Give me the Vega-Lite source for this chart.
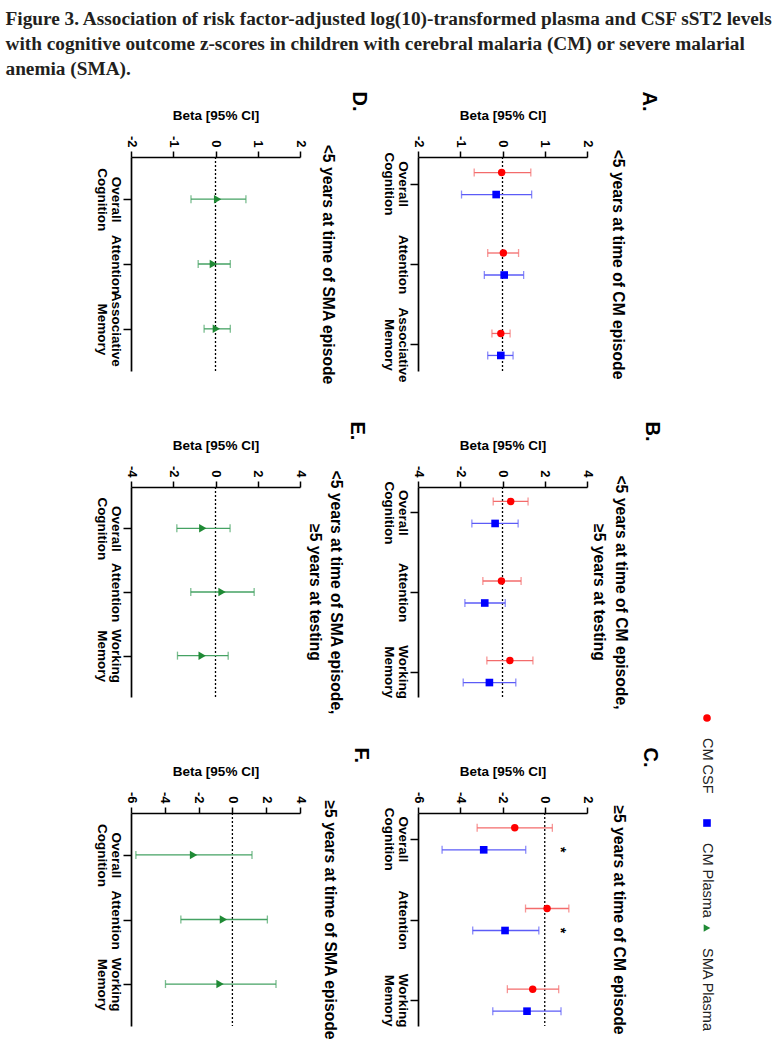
{
"$schema": "https://vega.github.io/schema/vega-lite/v6.json",
"padding": {"left": 5, "top": 10, "right": 2, "bottom": 2},
"background": "white",
"title": {"text": ["Figure 3. Association of risk factor-adjusted log(10)-transformed plasma and CSF sST2 levels", "with cognitive outcome z-scores in children with cerebral malaria (CM) or severe malarial", "anemia (SMA)."], "anchor": "start", "font": "Liberation Serif", "fontSize": 19.3, "fontWeight": "bold", "lineHeight": 25, "color": "#231f20", "dx": -89, "offset": 12},
"datasets": {
"A": [
{"outcome": "Overall Cognition", "type": "CSF", "beta": -0.02, "lo": -0.67, "hi": 0.67},
{"outcome": "Overall Cognition", "type": "Plasma", "beta": -0.15, "lo": -0.97, "hi": 0.69},
{"outcome": "Attention", "type": "CSF", "beta": 0.02, "lo": -0.35, "hi": 0.38},
{"outcome": "Attention", "type": "Plasma", "beta": 0.04, "lo": -0.43, "hi": 0.5},
{"outcome": "Associative Memory", "type": "CSF", "beta": -0.04, "lo": -0.25, "hi": 0.18},
{"outcome": "Associative Memory", "type": "Plasma", "beta": -0.04, "lo": -0.35, "hi": 0.25}
],
"B": [
{"outcome": "Overall Cognition", "type": "CSF", "beta": 0.39, "lo": -0.44, "hi": 1.21},
{"outcome": "Overall Cognition", "type": "Plasma", "beta": -0.35, "lo": -1.45, "hi": 0.74},
{"outcome": "Attention", "type": "CSF", "beta": -0.05, "lo": -0.93, "hi": 0.88},
{"outcome": "Attention", "type": "Plasma", "beta": -0.84, "lo": -1.78, "hi": 0.13},
{"outcome": "Working Memory", "type": "CSF", "beta": 0.35, "lo": -0.74, "hi": 1.44},
{"outcome": "Working Memory", "type": "Plasma", "beta": -0.62, "lo": -1.86, "hi": 0.63}
],
"C": [
{"outcome": "Overall Cognition", "type": "CSF", "beta": -1.42, "lo": -3.2, "hi": 0.36, "sig": ""},
{"outcome": "Overall Cognition", "type": "Plasma", "beta": -2.89, "lo": -4.86, "hi": -0.9, "sig": "*"},
{"outcome": "Attention", "type": "CSF", "beta": 0.11, "lo": -0.91, "hi": 1.14, "sig": ""},
{"outcome": "Attention", "type": "Plasma", "beta": -1.88, "lo": -3.41, "hi": -0.28, "sig": "*"},
{"outcome": "Working Memory", "type": "CSF", "beta": -0.57, "lo": -1.77, "hi": 0.66, "sig": ""},
{"outcome": "Working Memory", "type": "Plasma", "beta": -0.84, "lo": -2.46, "hi": 0.77, "sig": ""}
],
"D": [
{"outcome": "Overall Cognition", "type": "SMA", "beta": 0.05, "lo": -0.58, "hi": 0.72},
{"outcome": "Attention", "type": "SMA", "beta": -0.05, "lo": -0.41, "hi": 0.35},
{"outcome": "Associative Memory", "type": "SMA", "beta": 0.02, "lo": -0.27, "hi": 0.35}
],
"E": [
{"outcome": "Overall Cognition", "type": "SMA", "beta": -0.6, "lo": -1.83, "hi": 0.69},
{"outcome": "Attention", "type": "SMA", "beta": 0.31, "lo": -1.17, "hi": 1.83},
{"outcome": "Working Memory", "type": "SMA", "beta": -0.63, "lo": -1.8, "hi": 0.6}
],
"F": [
{"outcome": "Overall Cognition", "type": "SMA", "beta": -2.3, "lo": -5.71, "hi": 1.16},
{"outcome": "Attention", "type": "SMA", "beta": -0.53, "lo": -3.05, "hi": 2.07},
{"outcome": "Working Memory", "type": "SMA", "beta": -0.73, "lo": -3.96, "hi": 2.58}
],
"legend": [{"label": "CM CSF"}, {"label": "CM Plasma"}, {"label": "SMA Plasma"}]
},
"config": {
"view": {"stroke": null},
"font": "Liberation Sans",
"axis": {"grid": false, "labelOverlap": false, "domainColor": "#000", "domainWidth": 1.7, "tickColor": "#000", "tickWidth": 1.5, "labelColor": "#000", "labelFont": "Liberation Sans", "labelFontWeight": "bold", "labelFontSize": 13, "titleFont": "Liberation Sans", "titleFontWeight": "bold", "titleFontSize": 13.5, "titleColor": "#000"}
},
"spacing": 10,
"align": "each",
"hconcat": [
{"vconcat": [
{
"width": 169, "height": 214,
"data": {"name": "D"},
"title": {"text": "D.", "orient": "right", "anchor": "start", "font": "Liberation Sans", "fontSize": 20, "fontWeight": "bold", "color": "#000", "offset": 14, "dx": -17},
"resolve": {"axis": {"y": "independent"}},
"layer": [
{"data": {"values": [{}]}, "mark": {"type": "rule", "strokeDash": [2, 2], "color": "#000", "strokeWidth": 1.3}, "encoding": {"x": {"datum": 0, "type": "quantitative", "title": "Beta [95% CI]", "scale": {"domain": [-2, 2], "nice": false, "zero": false}, "axis": {"orient": "top", "values": [-2, -1, 0, 1, 2], "tickCount": 12, "labelAngle": 90, "labelAlign": "right", "labelBaseline": "middle", "labelExpr": "'' + datum.value", "tickSize": 6, "labelPadding": 4, "title": "Beta [95% CI]", "titlePadding": 13, "labelFlush": false, "labelOverlap": false}}}},
{"mark": {"type": "rule", "color": "#45a263", "strokeWidth": 1.3}, "encoding": {"x": {"field": "lo", "type": "quantitative", "title": "Beta [95% CI]"}, "x2": {"field": "hi"}, "y": {"field": "outcome", "type": "nominal", "scale": {"type": "point", "domain": ["Overall Cognition", "Attention", "Associative Memory"], "padding": 0.65}, "axis": {"orient": "left", "labelAngle": 90, "labelAlign": "center", "labelBaseline": "top", "labelExpr": "split(datum.label, ' ')", "tickSize": 8, "labelPadding": 1, "labelLineHeight": 14, "labelLimit": 0, "labelFontSize": 13.5, "title": null}}}},
{"mark": {"type": "tick", "color": "#45a263", "thickness": 1.3, "size": 8}, "encoding": {"x": {"field": "lo", "type": "quantitative", "title": "Beta [95% CI]"}, "y": {"field": "outcome", "type": "nominal", "scale": {"type": "point", "domain": ["Overall Cognition", "Attention", "Associative Memory"], "padding": 0.65}, "axis": null}}},
{"mark": {"type": "tick", "color": "#45a263", "thickness": 1.3, "size": 8}, "encoding": {"x": {"field": "hi", "type": "quantitative", "title": "Beta [95% CI]"}, "y": {"field": "outcome", "type": "nominal", "scale": {"type": "point", "domain": ["Overall Cognition", "Attention", "Associative Memory"], "padding": 0.65}, "axis": null}}},
{"mark": {"type": "point", "shape": "triangle-right", "filled": true, "color": "#1f8a35", "size": 72, "opacity": 1}, "encoding": {"x": {"field": "beta", "type": "quantitative", "title": "Beta [95% CI]"}, "y": {"field": "outcome", "type": "nominal", "scale": {"type": "point", "domain": ["Overall Cognition", "Attention", "Associative Memory"], "padding": 0.65}, "axis": {"orient": "right", "labels": false, "ticks": false, "domain": false, "title": "<5 years at time of SMA episode", "titleAngle": 90, "titleBaseline": "middle", "titleAlign": "center", "titlePadding": 27, "titleFontSize": 15.7, "titleLineHeight": 20}}}}
]
},
{
"width": 169, "height": 210,
"data": {"name": "E"},
"title": {"text": "E.", "orient": "right", "anchor": "start", "font": "Liberation Sans", "fontSize": 20, "fontWeight": "bold", "color": "#000", "offset": 4, "dx": -17},
"resolve": {"axis": {"y": "independent"}},
"layer": [
{"data": {"values": [{}]}, "mark": {"type": "rule", "strokeDash": [2, 2], "color": "#000", "strokeWidth": 1.3}, "encoding": {"x": {"datum": 0, "type": "quantitative", "title": "Beta [95% CI]", "scale": {"domain": [-4, 4], "nice": false, "zero": false}, "axis": {"orient": "top", "values": [-4, -2, 0, 2, 4], "tickCount": 12, "labelAngle": 90, "labelAlign": "right", "labelBaseline": "middle", "labelExpr": "'' + datum.value", "tickSize": 6, "labelPadding": 4, "title": "Beta [95% CI]", "titlePadding": 13, "labelFlush": false, "labelOverlap": false}}}},
{"mark": {"type": "rule", "color": "#45a263", "strokeWidth": 1.3}, "encoding": {"x": {"field": "lo", "type": "quantitative", "title": "Beta [95% CI]"}, "x2": {"field": "hi"}, "y": {"field": "outcome", "type": "nominal", "scale": {"type": "point", "domain": ["Overall Cognition", "Attention", "Working Memory"], "padding": 0.65}, "axis": {"orient": "left", "labelAngle": 90, "labelAlign": "center", "labelBaseline": "top", "labelExpr": "split(datum.label, ' ')", "tickSize": 8, "labelPadding": 1, "labelLineHeight": 14, "labelLimit": 0, "labelFontSize": 13.5, "title": null}}}},
{"mark": {"type": "tick", "color": "#45a263", "thickness": 1.3, "size": 8}, "encoding": {"x": {"field": "lo", "type": "quantitative", "title": "Beta [95% CI]"}, "y": {"field": "outcome", "type": "nominal", "scale": {"type": "point", "domain": ["Overall Cognition", "Attention", "Working Memory"], "padding": 0.65}, "axis": null}}},
{"mark": {"type": "tick", "color": "#45a263", "thickness": 1.3, "size": 8}, "encoding": {"x": {"field": "hi", "type": "quantitative", "title": "Beta [95% CI]"}, "y": {"field": "outcome", "type": "nominal", "scale": {"type": "point", "domain": ["Overall Cognition", "Attention", "Working Memory"], "padding": 0.65}, "axis": null}}},
{"mark": {"type": "point", "shape": "triangle-right", "filled": true, "color": "#1f8a35", "size": 72, "opacity": 1}, "encoding": {"x": {"field": "beta", "type": "quantitative", "title": "Beta [95% CI]"}, "y": {"field": "outcome", "type": "nominal", "scale": {"type": "point", "domain": ["Overall Cognition", "Attention", "Working Memory"], "padding": 0.65}, "axis": {"orient": "right", "labels": false, "ticks": false, "domain": false, "title": ["<5 years at time of SMA episode,", "≥5 years at testing"], "titleAngle": 90, "titleBaseline": "middle", "titleAlign": "center", "titlePadding": 14, "titleFontSize": 15.7, "titleLineHeight": 21}}}}
]
},
{
"width": 169, "height": 213,
"data": {"name": "F"},
"title": {"text": "F.", "orient": "right", "anchor": "start", "font": "Liberation Sans", "fontSize": 20, "fontWeight": "bold", "color": "#000", "offset": 14, "dx": -17},
"resolve": {"axis": {"y": "independent"}},
"layer": [
{"data": {"values": [{}]}, "mark": {"type": "rule", "strokeDash": [2, 2], "color": "#000", "strokeWidth": 1.3}, "encoding": {"x": {"datum": 0, "type": "quantitative", "title": "Beta [95% CI]", "scale": {"domain": [-6, 4], "nice": false, "zero": false}, "axis": {"orient": "top", "values": [-6, -4, -2, 0, 2, 4], "tickCount": 12, "labelAngle": 90, "labelAlign": "right", "labelBaseline": "middle", "labelExpr": "'' + datum.value", "tickSize": 6, "labelPadding": 4, "title": "Beta [95% CI]", "titlePadding": 13, "labelFlush": false, "labelOverlap": false}}}},
{"mark": {"type": "rule", "color": "#45a263", "strokeWidth": 1.3}, "encoding": {"x": {"field": "lo", "type": "quantitative", "title": "Beta [95% CI]"}, "x2": {"field": "hi"}, "y": {"field": "outcome", "type": "nominal", "scale": {"type": "point", "domain": ["Overall Cognition", "Attention", "Working Memory"], "padding": 0.65}, "axis": {"orient": "left", "labelAngle": 90, "labelAlign": "center", "labelBaseline": "top", "labelExpr": "split(datum.label, ' ')", "tickSize": 8, "labelPadding": 1, "labelLineHeight": 14, "labelLimit": 0, "labelFontSize": 13.5, "title": null}}}},
{"mark": {"type": "tick", "color": "#45a263", "thickness": 1.3, "size": 8}, "encoding": {"x": {"field": "lo", "type": "quantitative", "title": "Beta [95% CI]"}, "y": {"field": "outcome", "type": "nominal", "scale": {"type": "point", "domain": ["Overall Cognition", "Attention", "Working Memory"], "padding": 0.65}, "axis": null}}},
{"mark": {"type": "tick", "color": "#45a263", "thickness": 1.3, "size": 8}, "encoding": {"x": {"field": "hi", "type": "quantitative", "title": "Beta [95% CI]"}, "y": {"field": "outcome", "type": "nominal", "scale": {"type": "point", "domain": ["Overall Cognition", "Attention", "Working Memory"], "padding": 0.65}, "axis": null}}},
{"mark": {"type": "point", "shape": "triangle-right", "filled": true, "color": "#1f8a35", "size": 72, "opacity": 1}, "encoding": {"x": {"field": "beta", "type": "quantitative", "title": "Beta [95% CI]"}, "y": {"field": "outcome", "type": "nominal", "scale": {"type": "point", "domain": ["Overall Cognition", "Attention", "Working Memory"], "padding": 0.65}, "axis": {"orient": "right", "labels": false, "ticks": false, "domain": false, "title": "≥5 years at time of SMA episode", "titleAngle": 90, "titleBaseline": "middle", "titleAlign": "center", "titlePadding": 29, "titleFontSize": 15.7, "titleLineHeight": 20}}}}
]
}
], "spacing": 116, "bounds": "flush"},
{"vconcat": [
{
"width": 169, "height": 214,
"data": {"name": "A"},
"title": {"text": "A.", "orient": "right", "anchor": "start", "font": "Liberation Sans", "fontSize": 20, "fontWeight": "bold", "color": "#000", "offset": 14, "dx": -17},
"resolve": {"axis": {"y": "independent"}},
"layer": [
{"data": {"values": [{}]}, "mark": {"type": "rule", "strokeDash": [2, 2], "color": "#000", "strokeWidth": 1.3}, "encoding": {"x": {"datum": 0, "type": "quantitative", "title": "Beta [95% CI]", "scale": {"domain": [-2, 2], "nice": false, "zero": false}, "axis": {"orient": "top", "values": [-2, -1, 0, 1, 2], "tickCount": 12, "labelAngle": 90, "labelAlign": "right", "labelBaseline": "middle", "labelExpr": "'' + datum.value", "tickSize": 6, "labelPadding": 4, "title": "Beta [95% CI]", "titlePadding": 13, "labelFlush": false, "labelOverlap": false}}}},
{"transform": [{"filter": "datum.type == 'CSF'"}], "mark": {"type": "rule", "color": "#f36b6b", "strokeWidth": 1.3, "yOffset": -11}, "encoding": {"x": {"field": "lo", "type": "quantitative", "title": "Beta [95% CI]"}, "x2": {"field": "hi"}, "y": {"field": "outcome", "type": "nominal", "scale": {"type": "point", "domain": ["Overall Cognition", "Attention", "Associative Memory"], "padding": 0.33}, "axis": {"orient": "left", "labelAngle": 90, "labelAlign": "center", "labelBaseline": "top", "labelExpr": "split(datum.label, ' ')", "tickSize": 8, "labelPadding": 1, "labelLineHeight": 14, "labelLimit": 0, "labelFontSize": 13.5, "title": null}}}},
{"transform": [{"filter": "datum.type == 'CSF'"}], "mark": {"type": "tick", "color": "#f36b6b", "thickness": 1.3, "size": 8, "yOffset": -11}, "encoding": {"x": {"field": "lo", "type": "quantitative", "title": "Beta [95% CI]"}, "y": {"field": "outcome", "type": "nominal", "scale": {"type": "point", "domain": ["Overall Cognition", "Attention", "Associative Memory"], "padding": 0.33}, "axis": null}}},
{"transform": [{"filter": "datum.type == 'CSF'"}], "mark": {"type": "tick", "color": "#f36b6b", "thickness": 1.3, "size": 8, "yOffset": -11}, "encoding": {"x": {"field": "hi", "type": "quantitative", "title": "Beta [95% CI]"}, "y": {"field": "outcome", "type": "nominal", "scale": {"type": "point", "domain": ["Overall Cognition", "Attention", "Associative Memory"], "padding": 0.33}, "axis": null}}},
{"transform": [{"filter": "datum.type == 'CSF'"}], "mark": {"type": "point", "shape": "circle", "filled": true, "color": "#ff0000", "size": 55, "opacity": 1, "yOffset": -11}, "encoding": {"x": {"field": "beta", "type": "quantitative", "title": "Beta [95% CI]"}, "y": {"field": "outcome", "type": "nominal", "scale": {"type": "point", "domain": ["Overall Cognition", "Attention", "Associative Memory"], "padding": 0.33}, "axis": null}}},
{"transform": [{"filter": "datum.type == 'Plasma'"}], "mark": {"type": "rule", "color": "#5b5bf7", "strokeWidth": 1.3, "yOffset": 11}, "encoding": {"x": {"field": "lo", "type": "quantitative", "title": "Beta [95% CI]"}, "x2": {"field": "hi"}, "y": {"field": "outcome", "type": "nominal", "scale": {"type": "point", "domain": ["Overall Cognition", "Attention", "Associative Memory"], "padding": 0.33}, "axis": null}}},
{"transform": [{"filter": "datum.type == 'Plasma'"}], "mark": {"type": "tick", "color": "#5b5bf7", "thickness": 1.3, "size": 8, "yOffset": 11}, "encoding": {"x": {"field": "lo", "type": "quantitative", "title": "Beta [95% CI]"}, "y": {"field": "outcome", "type": "nominal", "scale": {"type": "point", "domain": ["Overall Cognition", "Attention", "Associative Memory"], "padding": 0.33}, "axis": null}}},
{"transform": [{"filter": "datum.type == 'Plasma'"}], "mark": {"type": "tick", "color": "#5b5bf7", "thickness": 1.3, "size": 8, "yOffset": 11}, "encoding": {"x": {"field": "hi", "type": "quantitative", "title": "Beta [95% CI]"}, "y": {"field": "outcome", "type": "nominal", "scale": {"type": "point", "domain": ["Overall Cognition", "Attention", "Associative Memory"], "padding": 0.33}, "axis": null}}},
{"transform": [{"filter": "datum.type == 'Plasma'"}], "mark": {"type": "point", "shape": "square", "filled": true, "color": "#0000ff", "size": 58, "opacity": 1, "yOffset": 11}, "encoding": {"x": {"field": "beta", "type": "quantitative", "title": "Beta [95% CI]"}, "y": {"field": "outcome", "type": "nominal", "scale": {"type": "point", "domain": ["Overall Cognition", "Attention", "Associative Memory"], "padding": 0.33}, "axis": {"orient": "right", "labels": false, "ticks": false, "domain": false, "title": "<5 years at time of CM episode", "titleAngle": 90, "titleBaseline": "middle", "titleAlign": "center", "titlePadding": 30, "titleFontSize": 15.7, "titleLineHeight": 20}}}}
]
},
{
"width": 169, "height": 210,
"data": {"name": "B"},
"title": {"text": "B.", "orient": "right", "anchor": "start", "font": "Liberation Sans", "fontSize": 20, "fontWeight": "bold", "color": "#000", "offset": 14, "dx": -17},
"resolve": {"axis": {"y": "independent"}},
"layer": [
{"data": {"values": [{}]}, "mark": {"type": "rule", "strokeDash": [2, 2], "color": "#000", "strokeWidth": 1.3}, "encoding": {"x": {"datum": 0, "type": "quantitative", "title": "Beta [95% CI]", "scale": {"domain": [-4, 4], "nice": false, "zero": false}, "axis": {"orient": "top", "values": [-4, -2, 0, 2, 4], "tickCount": 12, "labelAngle": 90, "labelAlign": "right", "labelBaseline": "middle", "labelExpr": "'' + datum.value", "tickSize": 6, "labelPadding": 4, "title": "Beta [95% CI]", "titlePadding": 13, "labelFlush": false, "labelOverlap": false}}}},
{"transform": [{"filter": "datum.type == 'CSF'"}], "mark": {"type": "rule", "color": "#f36b6b", "strokeWidth": 1.3, "yOffset": -11}, "encoding": {"x": {"field": "lo", "type": "quantitative", "title": "Beta [95% CI]"}, "x2": {"field": "hi"}, "y": {"field": "outcome", "type": "nominal", "scale": {"type": "point", "domain": ["Overall Cognition", "Attention", "Working Memory"], "padding": 0.32}, "axis": {"orient": "left", "labelAngle": 90, "labelAlign": "center", "labelBaseline": "top", "labelExpr": "split(datum.label, ' ')", "tickSize": 8, "labelPadding": 1, "labelLineHeight": 14, "labelLimit": 0, "labelFontSize": 13.5, "title": null}}}},
{"transform": [{"filter": "datum.type == 'CSF'"}], "mark": {"type": "tick", "color": "#f36b6b", "thickness": 1.3, "size": 8, "yOffset": -11}, "encoding": {"x": {"field": "lo", "type": "quantitative", "title": "Beta [95% CI]"}, "y": {"field": "outcome", "type": "nominal", "scale": {"type": "point", "domain": ["Overall Cognition", "Attention", "Working Memory"], "padding": 0.32}, "axis": null}}},
{"transform": [{"filter": "datum.type == 'CSF'"}], "mark": {"type": "tick", "color": "#f36b6b", "thickness": 1.3, "size": 8, "yOffset": -11}, "encoding": {"x": {"field": "hi", "type": "quantitative", "title": "Beta [95% CI]"}, "y": {"field": "outcome", "type": "nominal", "scale": {"type": "point", "domain": ["Overall Cognition", "Attention", "Working Memory"], "padding": 0.32}, "axis": null}}},
{"transform": [{"filter": "datum.type == 'CSF'"}], "mark": {"type": "point", "shape": "circle", "filled": true, "color": "#ff0000", "size": 55, "opacity": 1, "yOffset": -11}, "encoding": {"x": {"field": "beta", "type": "quantitative", "title": "Beta [95% CI]"}, "y": {"field": "outcome", "type": "nominal", "scale": {"type": "point", "domain": ["Overall Cognition", "Attention", "Working Memory"], "padding": 0.32}, "axis": null}}},
{"transform": [{"filter": "datum.type == 'Plasma'"}], "mark": {"type": "rule", "color": "#5b5bf7", "strokeWidth": 1.3, "yOffset": 11}, "encoding": {"x": {"field": "lo", "type": "quantitative", "title": "Beta [95% CI]"}, "x2": {"field": "hi"}, "y": {"field": "outcome", "type": "nominal", "scale": {"type": "point", "domain": ["Overall Cognition", "Attention", "Working Memory"], "padding": 0.32}, "axis": null}}},
{"transform": [{"filter": "datum.type == 'Plasma'"}], "mark": {"type": "tick", "color": "#5b5bf7", "thickness": 1.3, "size": 8, "yOffset": 11}, "encoding": {"x": {"field": "lo", "type": "quantitative", "title": "Beta [95% CI]"}, "y": {"field": "outcome", "type": "nominal", "scale": {"type": "point", "domain": ["Overall Cognition", "Attention", "Working Memory"], "padding": 0.32}, "axis": null}}},
{"transform": [{"filter": "datum.type == 'Plasma'"}], "mark": {"type": "tick", "color": "#5b5bf7", "thickness": 1.3, "size": 8, "yOffset": 11}, "encoding": {"x": {"field": "hi", "type": "quantitative", "title": "Beta [95% CI]"}, "y": {"field": "outcome", "type": "nominal", "scale": {"type": "point", "domain": ["Overall Cognition", "Attention", "Working Memory"], "padding": 0.32}, "axis": null}}},
{"transform": [{"filter": "datum.type == 'Plasma'"}], "mark": {"type": "point", "shape": "square", "filled": true, "color": "#0000ff", "size": 58, "opacity": 1, "yOffset": 11}, "encoding": {"x": {"field": "beta", "type": "quantitative", "title": "Beta [95% CI]"}, "y": {"field": "outcome", "type": "nominal", "scale": {"type": "point", "domain": ["Overall Cognition", "Attention", "Working Memory"], "padding": 0.32}, "axis": {"orient": "right", "labels": false, "ticks": false, "domain": false, "title": ["<5 years at time of CM episode,", "≥5 years at testing"], "titleAngle": 90, "titleBaseline": "middle", "titleAlign": "center", "titlePadding": 11, "titleFontSize": 15.7, "titleLineHeight": 22}}}}
]
},
{
"width": 169, "height": 213,
"data": {"name": "C"},
"title": {"text": "C.", "orient": "right", "anchor": "start", "font": "Liberation Sans", "fontSize": 20, "fontWeight": "bold", "color": "#000", "offset": 14, "dx": -17},
"resolve": {"axis": {"y": "independent"}},
"layer": [
{"data": {"values": [{}]}, "mark": {"type": "rule", "strokeDash": [2, 2], "color": "#000", "strokeWidth": 1.3}, "encoding": {"x": {"datum": 0, "type": "quantitative", "title": "Beta [95% CI]", "scale": {"domain": [-6, 2], "nice": false, "zero": false}, "axis": {"orient": "top", "values": [-6, -4, -2, 0, 2], "tickCount": 12, "labelAngle": 90, "labelAlign": "right", "labelBaseline": "middle", "labelExpr": "'' + datum.value", "tickSize": 6, "labelPadding": 4, "title": "Beta [95% CI]", "titlePadding": 13, "labelFlush": false, "labelOverlap": false}}}},
{"transform": [{"filter": "datum.type == 'CSF'"}], "mark": {"type": "rule", "color": "#f36b6b", "strokeWidth": 1.3, "yOffset": -11}, "encoding": {"x": {"field": "lo", "type": "quantitative", "title": "Beta [95% CI]"}, "x2": {"field": "hi"}, "y": {"field": "outcome", "type": "nominal", "scale": {"type": "point", "domain": ["Overall Cognition", "Attention", "Working Memory"], "padding": 0.32}, "axis": {"orient": "left", "labelAngle": 90, "labelAlign": "center", "labelBaseline": "top", "labelExpr": "split(datum.label, ' ')", "tickSize": 8, "labelPadding": 1, "labelLineHeight": 14, "labelLimit": 0, "labelFontSize": 13.5, "title": null}}}},
{"transform": [{"filter": "datum.type == 'CSF'"}], "mark": {"type": "tick", "color": "#f36b6b", "thickness": 1.3, "size": 8, "yOffset": -11}, "encoding": {"x": {"field": "lo", "type": "quantitative", "title": "Beta [95% CI]"}, "y": {"field": "outcome", "type": "nominal", "scale": {"type": "point", "domain": ["Overall Cognition", "Attention", "Working Memory"], "padding": 0.32}, "axis": null}}},
{"transform": [{"filter": "datum.type == 'CSF'"}], "mark": {"type": "tick", "color": "#f36b6b", "thickness": 1.3, "size": 8, "yOffset": -11}, "encoding": {"x": {"field": "hi", "type": "quantitative", "title": "Beta [95% CI]"}, "y": {"field": "outcome", "type": "nominal", "scale": {"type": "point", "domain": ["Overall Cognition", "Attention", "Working Memory"], "padding": 0.32}, "axis": null}}},
{"transform": [{"filter": "datum.type == 'CSF'"}], "mark": {"type": "point", "shape": "circle", "filled": true, "color": "#ff0000", "size": 55, "opacity": 1, "yOffset": -11}, "encoding": {"x": {"field": "beta", "type": "quantitative", "title": "Beta [95% CI]"}, "y": {"field": "outcome", "type": "nominal", "scale": {"type": "point", "domain": ["Overall Cognition", "Attention", "Working Memory"], "padding": 0.32}, "axis": null}}},
{"transform": [{"filter": "datum.type == 'Plasma'"}], "mark": {"type": "rule", "color": "#5b5bf7", "strokeWidth": 1.3, "yOffset": 11}, "encoding": {"x": {"field": "lo", "type": "quantitative", "title": "Beta [95% CI]"}, "x2": {"field": "hi"}, "y": {"field": "outcome", "type": "nominal", "scale": {"type": "point", "domain": ["Overall Cognition", "Attention", "Working Memory"], "padding": 0.32}, "axis": null}}},
{"transform": [{"filter": "datum.type == 'Plasma'"}], "mark": {"type": "tick", "color": "#5b5bf7", "thickness": 1.3, "size": 8, "yOffset": 11}, "encoding": {"x": {"field": "lo", "type": "quantitative", "title": "Beta [95% CI]"}, "y": {"field": "outcome", "type": "nominal", "scale": {"type": "point", "domain": ["Overall Cognition", "Attention", "Working Memory"], "padding": 0.32}, "axis": null}}},
{"transform": [{"filter": "datum.type == 'Plasma'"}], "mark": {"type": "tick", "color": "#5b5bf7", "thickness": 1.3, "size": 8, "yOffset": 11}, "encoding": {"x": {"field": "hi", "type": "quantitative", "title": "Beta [95% CI]"}, "y": {"field": "outcome", "type": "nominal", "scale": {"type": "point", "domain": ["Overall Cognition", "Attention", "Working Memory"], "padding": 0.32}, "axis": null}}},
{"transform": [{"filter": "datum.type == 'Plasma'"}], "mark": {"type": "point", "shape": "square", "filled": true, "color": "#0000ff", "size": 58, "opacity": 1, "yOffset": 11}, "encoding": {"x": {"field": "beta", "type": "quantitative", "title": "Beta [95% CI]"}, "y": {"field": "outcome", "type": "nominal", "scale": {"type": "point", "domain": ["Overall Cognition", "Attention", "Working Memory"], "padding": 0.32}, "axis": {"orient": "right", "labels": false, "ticks": false, "domain": false, "title": "≥5 years at time of CM episode", "titleAngle": 90, "titleBaseline": "middle", "titleAlign": "center", "titlePadding": 31, "titleFontSize": 15.7, "titleLineHeight": 20}}}},
{"transform": [{"filter": "datum.sig == '*'"}], "mark": {"type": "text", "angle": 90, "fontSize": 14, "fontWeight": "bold", "color": "#000", "yOffset": 11, "baseline": "middle", "align": "center"}, "encoding": {"x": {"datum": 0.7, "type": "quantitative"}, "y": {"field": "outcome", "type": "nominal", "scale": {"type": "point", "domain": ["Overall Cognition", "Attention", "Working Memory"], "padding": 0.32}, "axis": null}, "text": {"field": "sig"}}}
]
}
], "spacing": 116, "bounds": "flush"},
{"vconcat": [
{"width": 70, "height": 561, "data": {"values": []}, "mark": "point"},
{
"width": 70, "height": 210,
"data": {"name": "legend"},
"layer": [
{"mark": {"type": "point", "filled": true, "size": 58, "opacity": 1}, "encoding": {
"y": {"field": "label", "type": "nominal", "axis": null, "scale": {"type": "point", "domain": ["CM CSF", "CM Plasma", "SMA Plasma"], "padding": 0}},
"shape": {"field": "label", "type": "nominal", "scale": {"domain": ["CM CSF", "CM Plasma", "SMA Plasma"], "range": ["circle", "square", "triangle-right"]}, "legend": null},
"color": {"field": "label", "type": "nominal", "scale": {"domain": ["CM CSF", "CM Plasma", "SMA Plasma"], "range": ["#ff0000", "#0000ff", "#1f8a35"]}, "legend": null}}},
{"mark": {"type": "text", "angle": 90, "align": "left", "baseline": "middle", "dx": 20, "font": "Liberation Sans", "fontSize": 14.5, "color": "#222"}, "encoding": {
"y": {"field": "label", "type": "nominal", "axis": null, "scale": {"type": "point", "domain": ["CM CSF", "CM Plasma", "SMA Plasma"], "padding": 0}},
"text": {"field": "label"}}}
]
}
], "spacing": 0, "bounds": "flush"}
]
}
